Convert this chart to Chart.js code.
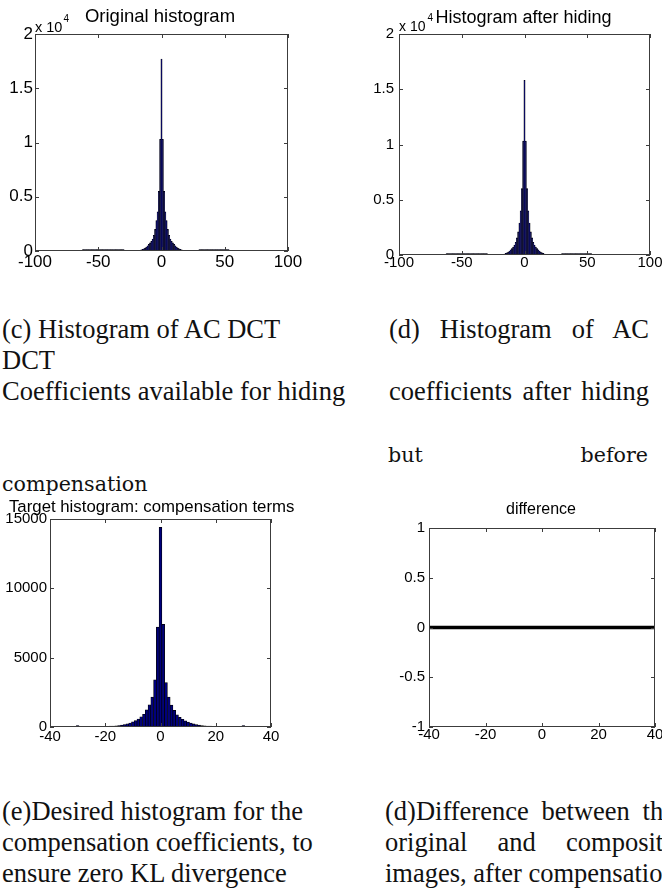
<!DOCTYPE html>
<html>
<head>
<meta charset="utf-8">
<script src="https://cdn.jsdelivr.net/npm/chart.js@4.4.0/dist/chart.umd.min.js"></script>
<style>
  html, body { margin: 0; padding: 0; background: #fff; }
  body { width: 662px; height: 892px; position: relative; overflow: hidden; }
  canvas { position: absolute; }
  .t { position: absolute; line-height: 1; white-space: nowrap; color: #000; font-family: 'Liberation Sans', Arial, sans-serif; }
  .c { position: absolute; line-height: 1; color: #111; font-family: 'Liberation Serif', 'Times New Roman', serif; font-size: 26.5px; white-space: nowrap; }
  .j { white-space: normal; text-align: justify; text-align-last: justify; }
  .dv { font-family: 'DejaVu Serif', serif; font-size: 20.6px; }
</style>
</head>
<body>
<canvas id="c1" width="320" height="272" style="left:0;top:0"></canvas>
<canvas id="c2" width="331" height="276" style="left:331px;top:0"></canvas>
<canvas id="c3" width="300" height="250" style="left:0;top:500px"></canvas>
<canvas id="c4" width="331" height="250" style="left:331px;top:500px"></canvas>

<!-- chart titles -->
<div class="t" style="left:160px;top:7.3px;font-size:18.5px;transform:translateX(-50%)">Original histogram</div>
<div class="t" style="left:35px;top:19.7px;font-size:14.5px">x 10</div>
<div class="t" style="left:63.5px;top:13.5px;font-size:10px">4</div>
<div class="t" style="left:523.5px;top:7.5px;font-size:18px;transform:translateX(-50%)">Histogram after hiding</div>
<div class="t" style="left:399px;top:19.2px;font-size:14px">x 10</div>
<div class="t" style="left:427.5px;top:13px;font-size:10px">4</div>
<div class="t" style="left:151.7px;top:498.5px;font-size:16.8px;transform:translateX(-50%)">Target histogram: compensation terms</div>
<div class="t" style="left:541px;top:500.5px;font-size:16px;transform:translateX(-50%)">difference</div>

<!-- captions -->
<div class="c" style="left:2px;top:315.8px">(c) Histogram of AC DCT</div>
<div class="c" style="left:2px;top:346.8px">DCT</div>
<div class="c" style="left:2px;top:377.8px">Coefficients available for hiding</div>
<div class="c j" style="left:389px;top:315.8px;width:260px">(d) Histogram of AC</div>
<div class="c j" style="left:389px;top:377.8px;width:260px">coefficients after hiding</div>
<div class="c j dv" style="left:388px;top:445.4px;width:260px">but before</div>
<div class="c dv" style="left:2px;top:474px">compensation</div>
<div class="c" style="left:2px;top:797.8px">(e)Desired histogram for the</div>
<div class="c" style="left:2px;top:828.8px">compensation coefficients, to</div>
<div class="c" style="left:2px;top:859.8px">ensure zero KL divergence</div>
<div class="c j" style="left:385px;top:797.8px;width:290px">(d)Difference between the</div>
<div class="c j" style="left:385px;top:828.8px;width:290px">original and composite</div>
<div class="c" style="left:385px;top:859.8px">images, after compensation</div>

<script>
// histogram bins (coefficient value) and counts
const binsTop = [-62,-61,-60,-59,-58,-57,-56,-55,-54,-53,-52,-51,-50,-49,-48,-47,-46,-45,-44,-43,-42,-41,-40,-39,-38,-37,-36,-35,-34,-33,-32,-31,-30,
  -29,-28,-27,-26,-25,-24,-23,-22,-21,-20,-19,-18,-17,-16,-15,-14,-13,-12,-11,-10,-9,-8,-7,-6,-5,-4,-3,-2,-1,0,
  1,2,3,4,5,6,7,8,9,10,11,12,13,14,15,16,17,18,19,20,21,22,23,24,25,26,27,28,29,
  30,31,32,33,34,35,36,37,38,39,40,41,42,43,44,45,46,47,48,49,50,51,52,53];

const originalCounts = [120,120,120,120,120,120,120,120,120,120,120,120,120,120,120,120,120,120,120,120,120,120,120,120,120,120,120,120,120,120,120,120,120,
  0,0,0,0,0,0,0,0,10,15,25,35,60,100,150,210,280,370,480,620,750,900,1100,1450,2000,2800,3600,5500,10300,17700,
  10300,5500,3600,2800,2000,1450,1100,900,750,620,480,370,280,210,150,100,60,35,25,15,10,0,0,0,0,0,0,0,0,
  120,120,120,120,120,120,120,120,120,120,120,120,120,120,120,120,120,120,120,120,120,120,120,120];

const hiddenCounts = [120,120,120,120,120,120,120,120,120,120,120,120,120,120,120,120,120,120,120,120,120,120,120,120,120,120,120,120,120,120,120,120,120,
  0,0,0,0,0,0,0,0,10,20,30,35,55,90,140,200,270,360,460,580,720,900,1150,1550,2100,2900,4000,6000,10300,15800,
  10300,6000,4000,2900,2100,1550,1150,900,720,580,460,360,270,200,140,90,55,35,20,10,0,0,0,0,0,0,0,0,0,
  120,120,120,120,120,120,120,120,120,120,120,120,120,120,120,120,120,120,120,120,120,120,120,120];

const binsComp = [-30,-29,-28,-27,-26,-25,-24,-23,-22,-21,-20,-19,-18,-17,-16,-15,-14,-13,-12,-11,-10,-9,-8,-7,-6,-5,-4,-3,-2,-1,0,
  1,2,3,4,5,6,7,8,9,10,11,12,13,14,15,16,17,18,19,20,21,22,23,24,25,26,27,28,29,30];
const compCounts = [110,30,30,30,30,30,35,35,40,45,50,55,60,70,85,110,140,180,230,290,370,460,580,740,920,1230,1600,2150,3400,7200,14400,
  7400,3200,2150,1580,1200,880,700,560,440,350,280,220,170,130,100,80,70,60,50,45,40,35,35,30,30,30,30,30,30,110];

const diffX = [-40,-30,-20,-10,0,10,20,30,40];
const diffY = [0,0,0,0,0,0,0,0,0];

const topTicksX = [-100, 100, 50];   // min, max, step
const botTicksX = [-40, 40, 20];

const SANS = "'Liberation Sans', Arial, sans-serif";

// MATLAB style box with inward ticks on all four sides
const matlabBox = {
  id: 'matlabBox',
  afterDatasetsDraw(chart) {
    const { ctx, chartArea: a, scales } = chart;
    const x = scales.x, y = scales.y, t = 4;
    ctx.save();
    ctx.strokeStyle = '#3c3c3c';
    ctx.lineWidth = 1;
    ctx.strokeRect(a.left + 0.5, a.top + 0.5, a.right - a.left - 1, a.bottom - a.top - 1);
    ctx.beginPath();
    x.ticks.forEach(tk => {
      const p = Math.round(x.getPixelForValue(tk.value)) + 0.5;
      ctx.moveTo(p, a.bottom); ctx.lineTo(p, a.bottom - t);
      ctx.moveTo(p, a.top); ctx.lineTo(p, a.top + t);
    });
    y.ticks.forEach(tk => {
      const p = Math.round(y.getPixelForValue(tk.value)) + 0.5;
      ctx.moveTo(a.left, p); ctx.lineTo(a.left + t, p);
      ctx.moveTo(a.right, p); ctx.lineTo(a.right - t, p);
    });
    ctx.stroke();
    ctx.restore();
  }
};

function axes(o) {
  return {
    x: {
      type: 'linear', min: o.xr[0], max: o.xr[1], offset: false,
      grid: { display: false, drawTicks: false }, border: { display: false },
      ticks: { stepSize: o.xr[2], autoSkip: false, maxRotation: 0, padding: o.xpad, color: '#000',
               font: { family: SANS, size: o.fs, lineHeight: 1 } },
      afterFit(s) { s.height = o.xh; s.paddingLeft = 0; s.paddingRight = 0; }
    },
    y: {
      type: 'linear', min: o.yr[0], max: o.yr[1],
      grid: { display: false, drawTicks: false }, border: { display: false },
      ticks: { stepSize: o.yr[2], padding: o.ypad, color: '#000',
               font: { family: SANS, size: o.fs, lineHeight: 1 },
               callback: o.ycb || (v => v) },
      afterFit(s) { s.width = o.yw; s.paddingTop = 0; s.paddingBottom = 0; }
    }
  };
}

function histChart(id, bins, counts, opts, pad, bw, fill) {
  return new Chart(document.getElementById(id), {
    type: 'bar',
    data: {
      datasets: [{
        data: bins.map((b, i) => ({ x: b, y: counts[i] })),
        backgroundColor: fill,
        borderColor: '#000000',
        borderWidth: bw,
        barPercentage: 1,
        categoryPercentage: 1
      }]
    },
    options: {
      responsive: false, animation: false,
      layout: { padding: pad },
      plugins: { legend: { display: false }, tooltip: { enabled: false } },
      scales: axes(opts)
    },
    plugins: [matlabBox]
  });
}

histChart('c1', binsTop, originalCounts,
  { xr: topTicksX, yr: [0, 20000, 5000], fs: 17, xh: 21, yw: 35, xpad: 3, ypad: 2, ycb: v => v / 10000 },
  { top: 34, right: 32, left: 0, bottom: 0 }, 0.5, '#00005e');

histChart('c2', binsTop, hiddenCounts,
  { xr: topTicksX, yr: [0, 20000, 5000], fs: 15, xh: 21, yw: 68, xpad: 0, ypad: 5, ycb: v => v / 10000 },
  { top: 34, right: 12, left: 0, bottom: 0 }, 0.5, '#00005e');

histChart('c3', binsComp, compCounts,
  { xr: botTicksX, yr: [0, 15000, 5000], fs: 15, xh: 23, yw: 50, xpad: 2, ypad: 3 },
  { top: 19, right: 29, left: 0, bottom: 0 }, 0.7, '#00007c');

new Chart(document.getElementById('c4'), {
  type: 'line',
  data: {
    datasets: [{
      data: diffX.map((v, i) => ({ x: v, y: diffY[i] })),
      borderColor: '#000', borderWidth: 3.5, pointRadius: 0, fill: false
    }]
  },
  options: {
    responsive: false, animation: false,
    layout: { padding: { top: 28, right: 7, left: 0, bottom: 0 } },
    plugins: { legend: { display: false }, tooltip: { enabled: false } },
    scales: axes({ xr: botTicksX, yr: [-1, 1, 0.5], fs: 15, xh: 23, yw: 98, xpad: 0, ypad: 4 })
  },
  plugins: [matlabBox]
});
</script>
</body>
</html>
